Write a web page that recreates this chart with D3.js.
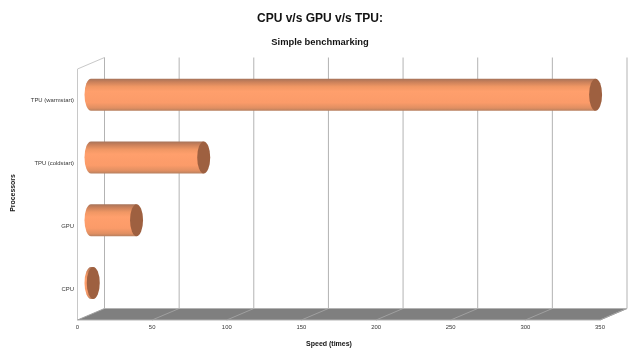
<!DOCTYPE html>
<html>
<head>
<meta charset="utf-8">
<script src="https://cdnjs.cloudflare.com/ajax/libs/d3/7.8.5/d3.min.js"></script>
<style>
  html, body { margin: 0; padding: 0; background: #fff; }
  text { font-family: "Liberation Sans", Arial, sans-serif; }
  .labels { opacity: 0.99; will-change: opacity; }
</style>
</head>
<body>
<div id="chart"></div>
<script>
// DATA ===========================================================================================
const processors = ['CPU', 'GPU', 'TPU (coldstart)', 'TPU (warmstart)']
const speeds = [1.5, 30.5, 75.5, 338]
const speedTicks = [0, 50, 100, 150, 200, 250, 300, 350]

// SET UP =========================================================================================
const width = 640
const height = 356
const depthX = 27
const depthY = -11.5
const barHeight = 32
const capRx = 6.5

const svg = d3.select('#chart')
  .append('svg')
  .attr('width', width)
  .attr('height', height)
  .style('display', 'block')

const grad = svg.append('defs').append('linearGradient')
  .attr('id', 'barFill')
  .attr('x1', 0).attr('x2', 0).attr('y1', 0).attr('y2', 1)
grad.selectAll('stop')
  .data([[0, '#a5735a'], [0.1, '#c9805a'], [0.25, '#f09764'], [0.4, '#ff9f6c'], [0.75, '#fb9b69'], [0.92, '#e08f62'], [1, '#b8805f']])
  .join('stop')
  .attr('offset', d => d[0])
  .attr('stop-color', d => d[1])

// SCALES =========================================================================================
const x = d3.scaleLinear().domain([0, 350]).range([77.5, 600])
const y = d3.scaleBand().domain(processors.slice().reverse()).range([69, 320])
const floorY = y.range()[1]
const topY = y.range()[0]

// WALLS AND FLOOR ================================================================================
svg.append('path')
  .attr('d', d3.line()([
    [x(0), floorY], [x(350), floorY], [x(350) + depthX, floorY + depthY], [x(0) + depthX, floorY + depthY]
  ]) + 'Z')
  .attr('fill', '#7f7f7f')

svg.append('path')
  .attr('d', d3.line()([
    [x(0), floorY], [x(0), topY], [x(0) + depthX, topY + depthY]
  ]))
  .attr('fill', 'none')
  .attr('stroke', '#c8c8c8')
  .attr('stroke-width', 1)

svg.append('path')
  .attr('d', d3.line()([
    [x(0), floorY], [x(350), floorY], [x(350) + depthX, floorY + depthY]
  ]))
  .attr('fill', 'none')
  .attr('stroke', '#b3b3b3')
  .attr('stroke-width', 1)

svg.selectAll('.grid')
  .data(speedTicks)
  .join('line')
  .attr('class', 'grid')
  .attr('x1', d => x(d) + depthX)
  .attr('x2', d => x(d) + depthX)
  .attr('y1', topY + depthY)
  .attr('y2', floorY + depthY)
  .attr('stroke', '#b3b3b3')
  .attr('stroke-width', 1)

svg.selectAll('.floorGrid')
  .data(speedTicks)
  .join('line')
  .attr('class', 'floorGrid')
  .attr('x1', d => x(d))
  .attr('x2', d => x(d) + depthX)
  .attr('y1', floorY)
  .attr('y2', floorY + depthY)
  .attr('stroke', '#a0a0a0')
  .attr('stroke-width', 1)

svg.append('line')
  .attr('x1', x(0) + depthX).attr('x2', x(350) + depthX)
  .attr('y1', floorY + depthY).attr('y2', floorY + depthY)
  .attr('stroke', '#b3b3b3')

// MARKS ==========================================================================================
const barCy = d => y(d) + y.bandwidth() / 2 + depthY / 2
const baseX = x(0) + depthX / 2
const barLen = v => x(v) - x(0)

const bars = svg.selectAll('.bar')
  .data(processors.map((p, i) => ({ p, v: speeds[i] })))
  .join('g')
  .attr('class', 'bar')
  .attr('transform', d => `translate(${baseX}, ${barCy(d.p)})`)

bars.append('path')
  .attr('d', d => {
    const r = barHeight / 2
    return `M0,${-r} L${barLen(d.v)},${-r} L${barLen(d.v)},${r} L0,${r} A${capRx},${r} 0 0 1 0,${-r} Z`
  })
  .attr('fill', 'url(#barFill)')

bars.append('ellipse')
  .attr('cx', d => barLen(d.v))
  .attr('rx', capRx)
  .attr('ry', barHeight / 2)
  .attr('fill', '#9e6040')

// TEXT ===========================================================================================
const labels = svg.append('g').attr('class', 'labels')

labels.selectAll('.xTick')
  .data(speedTicks)
  .join('text')
  .attr('class', 'xTick')
  .attr('x', d => x(d))
  .attr('y', 329)
  .attr('text-anchor', 'middle')
  .attr('font-size', 5.9)
  .attr('fill', '#333')
  .text(d => d)

labels.selectAll('.yTick')
  .data(processors)
  .join('text')
  .attr('class', 'yTick')
  .attr('x', 74)
  .attr('y', d => y(d) + y.bandwidth() / 2 + 2)
  .attr('text-anchor', 'end')
  .attr('font-size', 5.9)
  .attr('fill', '#333')
  .text(d => d)

labels.append('text')
  .attr('x', 320).attr('y', 22)
  .attr('text-anchor', 'middle')
  .attr('font-size', 12)
  .attr('font-weight', 'bold')
  .attr('fill', '#111')
  .text('CPU v/s GPU v/s TPU:')

labels.append('text')
  .attr('x', 320).attr('y', 44.7)
  .attr('text-anchor', 'middle')
  .attr('font-size', 9.4)
  .attr('font-weight', 'bold')
  .attr('fill', '#111')
  .text('Simple benchmarking')

labels.append('text')
  .attr('x', 329).attr('y', 346)
  .attr('text-anchor', 'middle')
  .attr('font-size', 7)
  .attr('font-weight', 'bold')
  .attr('fill', '#111')
  .text('Speed (times)')

labels.append('text')
  .attr('transform', 'translate(15, 193) rotate(-90)')
  .attr('text-anchor', 'middle')
  .attr('font-size', 6.9)
  .attr('font-weight', 'bold')
  .attr('fill', '#111')
  .text('Processors')
</script>
</body>
</html>
